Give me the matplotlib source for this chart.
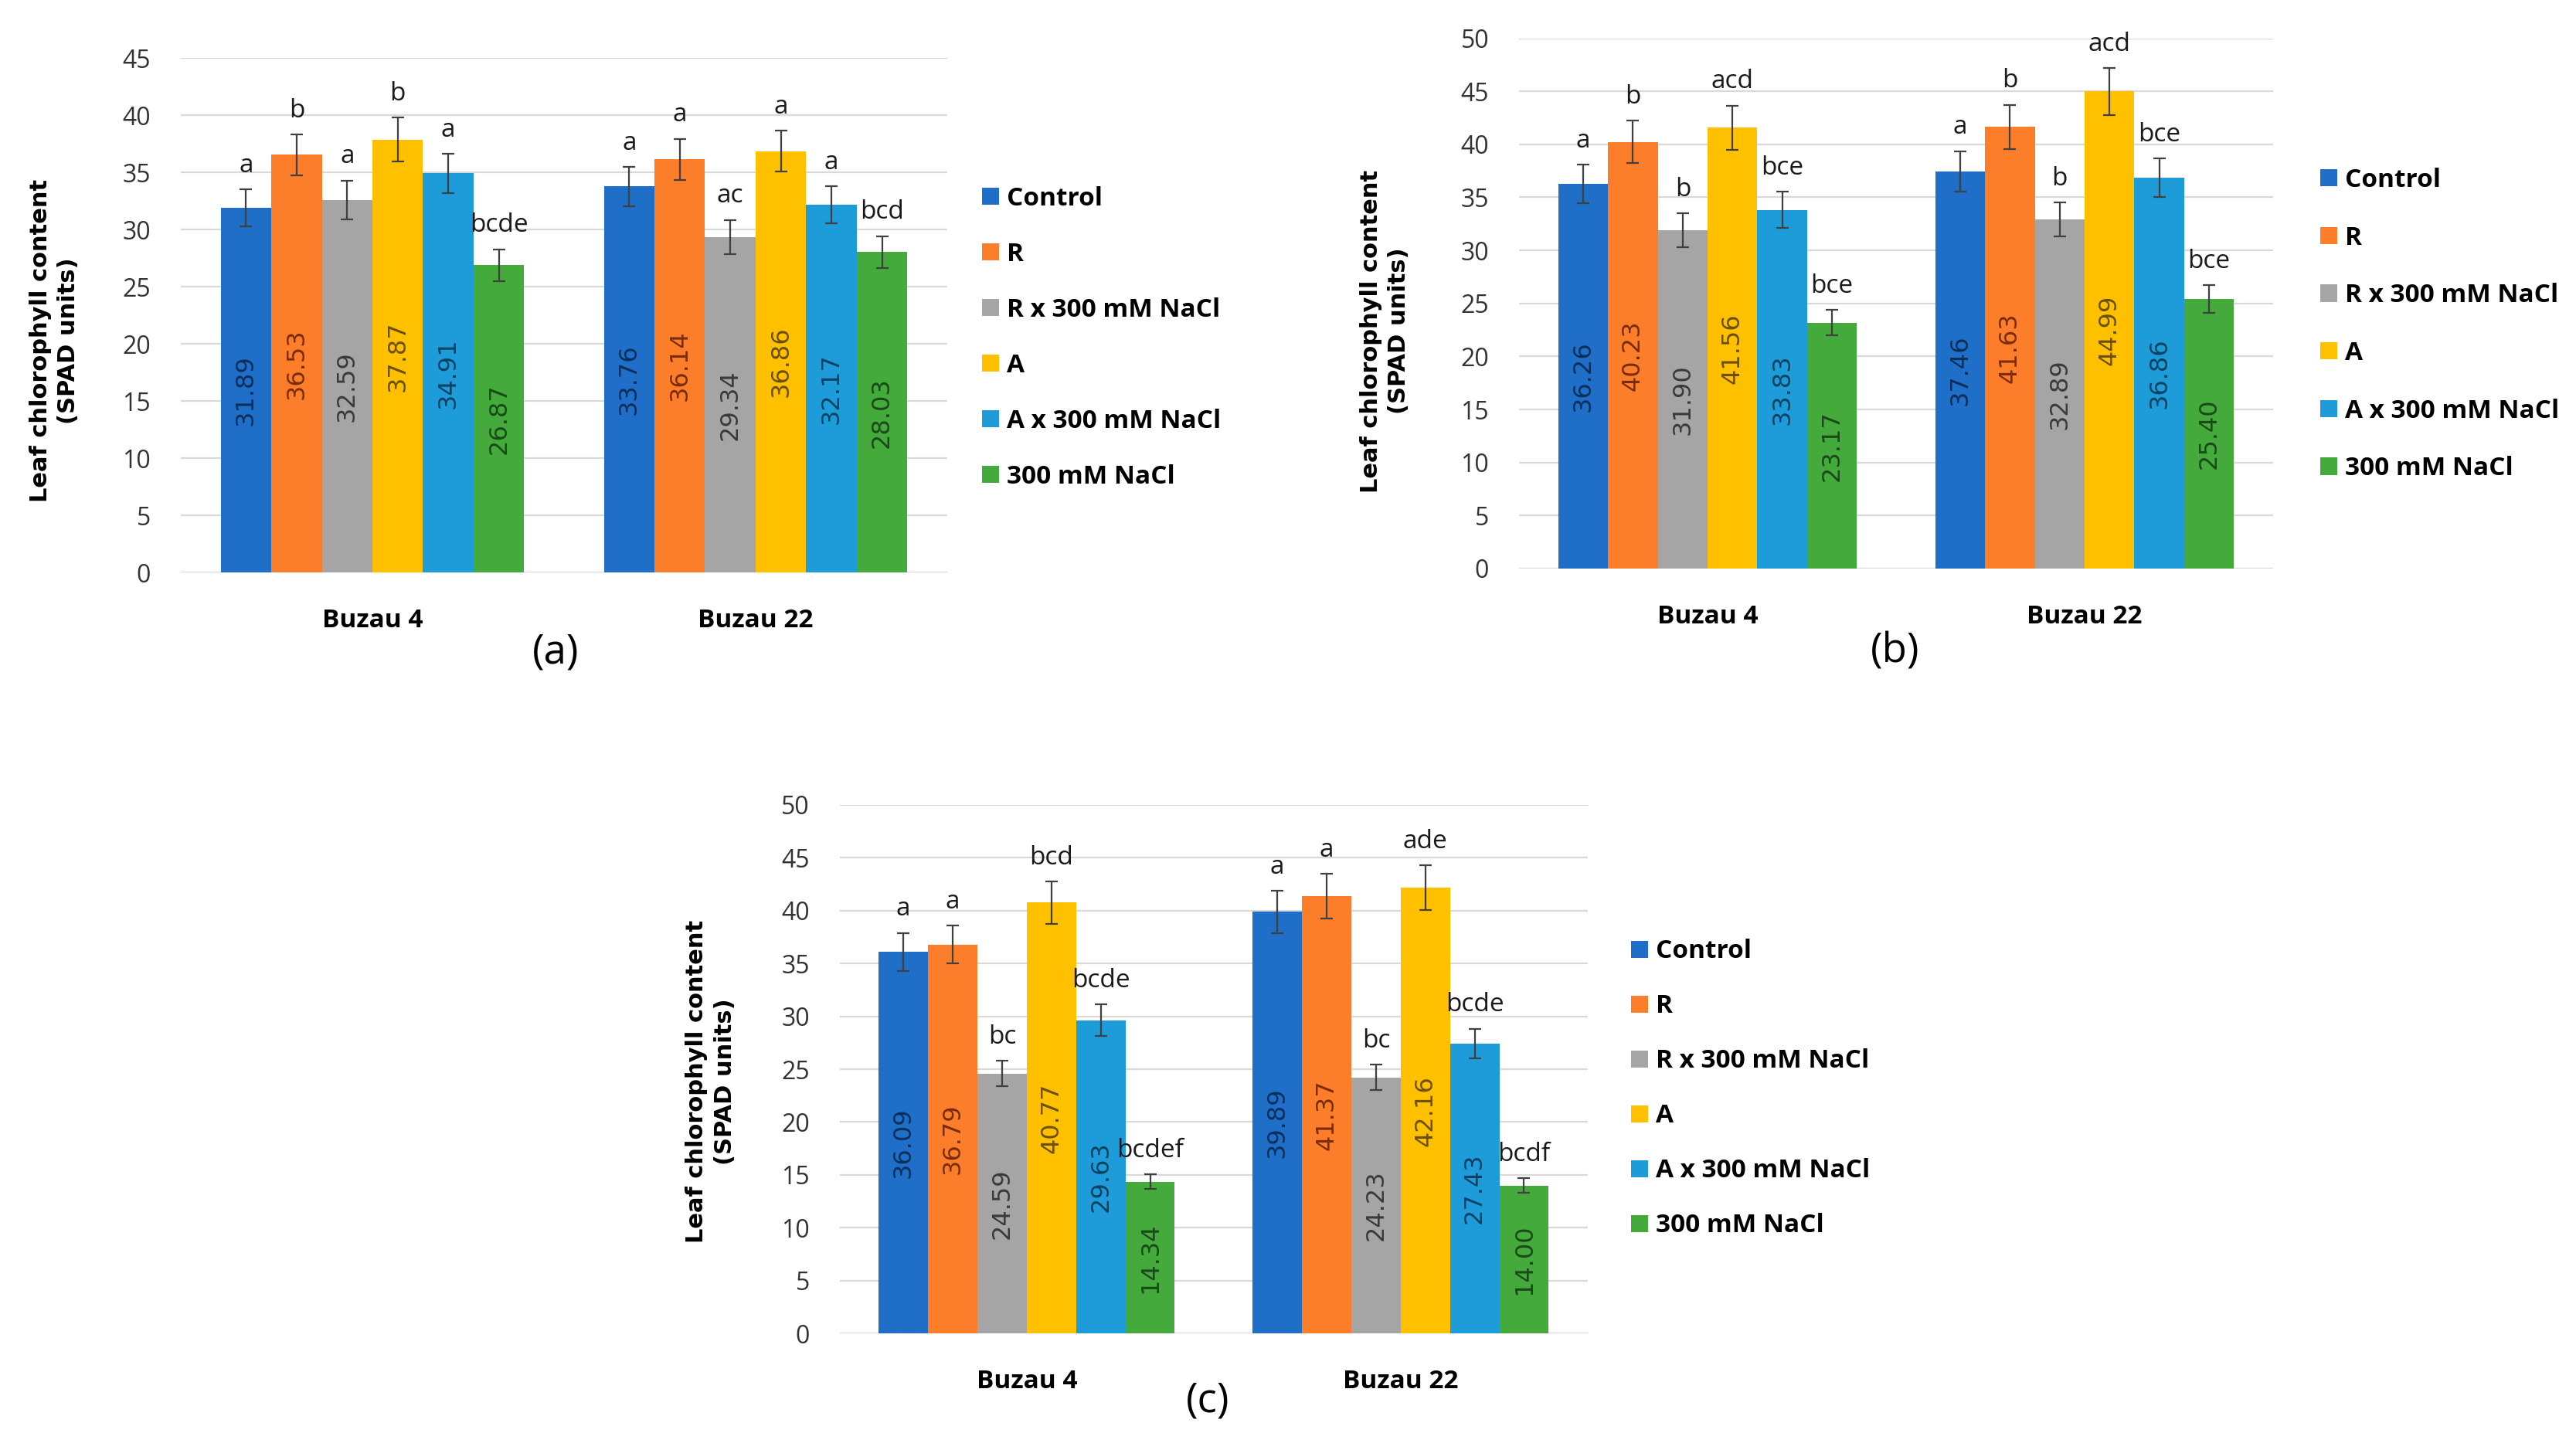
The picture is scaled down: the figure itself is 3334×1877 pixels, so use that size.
import numpy as np
import matplotlib.pyplot as plt

plt.rcParams['font.family'] = ['Open Sans', 'DejaVu Sans']

genotypes = ['Buzau 4', 'Buzau 22']
treatments = ['Control', 'R', 'R x 300 mM NaCl', 'A', 'A x 300 mM NaCl', '300 mM NaCl']
colors = ['#1F6FC8', '#FD7E2A', '#A5A5A5', '#FFC000', '#1E9CDA', '#43AA3B']
label_colors = ['#0B2F5C', '#7A2C0C', '#3A3A3A', '#6B5000', '#0A4262', '#1A4A18']

# panel (a)
a_buzau4 = [31.89, 36.53, 32.59, 37.87, 34.91, 26.87]
a_buzau22 = [33.76, 36.14, 29.34, 36.86, 32.17, 28.03]
a_err4 = [1.6, 1.8, 1.7, 1.9, 1.7, 1.4]
a_err22 = [1.7, 1.8, 1.5, 1.8, 1.6, 1.4]
a_let4 = ['a', 'b', 'a', 'b', 'a', 'bcde']
a_let22 = ['a', 'a', 'ac', 'a', 'a', 'bcd']

# panel (b)
b_buzau4 = [36.26, 40.23, 31.90, 41.56, 33.83, 23.17]
b_buzau22 = [37.46, 41.63, 32.89, 44.99, 36.86, 25.40]
b_err4 = [1.8, 2.0, 1.6, 2.1, 1.7, 1.2]
b_err22 = [1.9, 2.1, 1.6, 2.2, 1.8, 1.3]
b_let4 = ['a', 'b', 'b', 'acd', 'bce', 'bce']
b_let22 = ['a', 'b', 'b', 'acd', 'bce', 'bce']

# panel (c)
c_buzau4 = [36.09, 36.79, 24.59, 40.77, 29.63, 14.34]
c_buzau22 = [39.89, 41.37, 24.23, 42.16, 27.43, 14.00]
c_err4 = [1.8, 1.8, 1.2, 2.0, 1.5, 0.7]
c_err22 = [2.0, 2.1, 1.2, 2.1, 1.4, 0.7]
c_let4 = ['a', 'a', 'bc', 'bcd', 'bcde', 'bcdef']
c_let22 = ['a', 'a', 'bc', 'ade', 'bcde', 'bcdf']


def draw_panel(ax, v4, v22, e4, e22, l4, l22, ymax, ylab_xy, leg_xy, spacing):
    x = np.arange(len(genotypes))
    w = 0.132
    for i, t in enumerate(treatments):
        pos = x + (i - 2.5) * w
        h = [v4[i], v22[i]]
        e = [e4[i], e22[i]]
        ax.bar(pos, h, w, color=colors[i], label=t, zorder=2)
        ax.errorbar(pos, h, yerr=e, fmt='none', ecolor='#404040',
                    elinewidth=1.6, capsize=6, capthick=1.6, zorder=3)
        for p, v, ee, let in zip(pos, h, e, [l4[i], l22[i]]):
            ax.text(p, v / 2, f'{v:.2f}', rotation=90, ha='center', va='center',
                    family='DejaVu Sans', fontsize=23, color=label_colors[i], zorder=4)
            ax.annotate(let, (p, v + ee), xytext=(0, 16), textcoords='offset points',
                        ha='center', va='baseline', fontsize=24, color='#1a1a1a')

    ax.set_xlim(-0.5, 1.5)
    ax.set_ylim(0, ymax)
    ax.set_yticks(np.arange(0, ymax + 1, 5))
    ax.grid(axis='y', color='#D9D9D9', lw=1.6, zorder=0)
    ax.set_axisbelow(True)
    for s in ax.spines.values():
        s.set_visible(False)
    ax.tick_params(axis='y', length=0, labelsize=23, pad=28, labelcolor='#333333')
    ax.set_xticks(x)
    ax.set_xticklabels(genotypes, fontweight='bold', fontsize=24)
    ax.tick_params(axis='x', length=0, pad=33)

    ax.set_ylabel('Leaf chlorophyll content\n(SPAD units)', family='DejaVu Sans',
                  fontweight='bold', fontsize=22, linespacing=1.32)
    ax.yaxis.label.set_va('center')
    ax.yaxis.set_label_coords(*ylab_xy)

    ax.legend(loc='center left', bbox_to_anchor=leg_xy, bbox_transform=ax.figure.transFigure,
              frameon=False, prop={'weight': 'bold', 'size': 24},
              handlelength=0.65, handleheight=0.65, handletextpad=0.3,
              labelspacing=spacing, borderpad=0, borderaxespad=0)


fig = plt.figure(figsize=(33.34, 18.77), dpi=100)

ax_a = fig.add_axes([0.0702, 0.6052, 0.2975, 0.3548])
draw_panel(ax_a, a_buzau4, a_buzau22, a_err4, a_err22, a_let4, a_let22, 45,
           (-0.165, 0.45), (0.3812, 0.7669), 1.17)

ax_b = fig.add_axes([0.5897, 0.6079, 0.2927, 0.3657])
draw_panel(ax_b, b_buzau4, b_buzau22, b_err4, b_err22, b_let4, b_let22, 50,
           (-0.178, 0.448), (0.9007, 0.7762), 1.25)

ax_c = fig.add_axes([0.3260, 0.0804, 0.2903, 0.3645])
draw_panel(ax_c, c_buzau4, c_buzau22, c_err4, c_err22, c_let4, c_let22, 50,
           (-0.1725, 0.477), (0.6332, 0.2491), 1.14)

fig.text(0.2157, 0.5498, '(a)', fontsize=38, ha='center', va='center')
fig.text(0.7355, 0.5503, '(b)', fontsize=38, ha='center', va='center')
fig.text(0.4688, 0.0336, '(c)', fontsize=38, ha='center', va='center')

fig.savefig('out.png', dpi=100, facecolor='white')
